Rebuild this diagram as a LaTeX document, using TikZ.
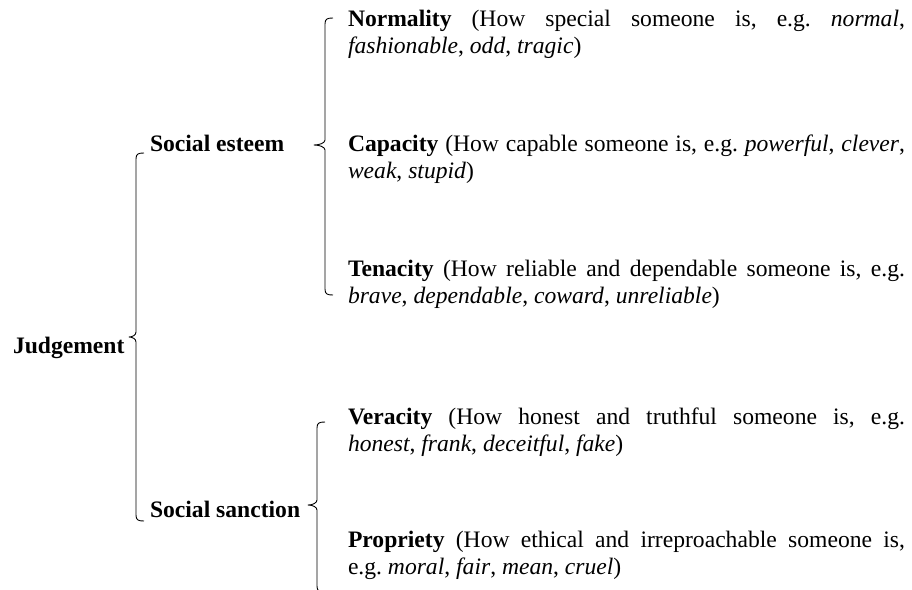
\documentclass[tikz,border=0pt]{standalone}
\usepackage{fontspec}
\setmainfont{Liberation Serif}

\tikzset{
  x=1pt, y=-1pt,
  every node/.style={inner sep=0pt, outer sep=0pt},
  label/.style={anchor=base west, font=\fontsize{23.6}{28}\selectfont\bfseries},
  entry/.style={anchor=base west, text width=557pt, align=justify,
                font=\fontsize{23.6}{27.5}\selectfont\frenchspacing},
  brace/.style={line width=0.9pt, line join=round},
}

% left curly brace: #1 = x, #2 = top, #3 = tip, #4 = bottom, #5 = tip depth
\newcommand{\leftbrace}[5]{%
  \draw[brace] (#1+8,#2) .. controls (#1+2,#2) and (#1,#2+1) .. (#1,#2+6)
    -- (#1,#3-5) .. controls (#1,#3-2) and (#1-#5/2,#3) .. (#1-#5,#3)
    .. controls (#1-#5/2,#3) and (#1,#3+2) .. (#1,#3+5)
    -- (#1,#4-6) .. controls (#1,#4-1) and (#1+2,#4) .. (#1+8,#4);}

\begin{document}
\begin{tikzpicture}
\useasboundingbox (0,0) rectangle (912,589);
\clip (0,0) rectangle (912,589);

% category labels
\node[label] (judge) at (13,353) {Judgement};
\node[label] (esteem) at (150,151) {Social esteem};
\node[label] (sanction) at (150,517) {Social sanction};

% sub-categories
\node[entry] (norm) at (348,26) {\textbf{Normality} (How special someone is, e.g. \textit{normal},\linebreak \textit{fashionable}, \textit{odd}, \textit{tragic})};
\node[entry] (cap) at (348,151) {\textbf{Capacity} (How capable someone is, e.g. \textit{powerful}, \textit{clever},\linebreak \textit{weak}, \textit{stupid})};
\node[entry] (ten) at (348,276) {\textbf{Tenacity} (How reliable and dependable someone is, e.g.\linebreak \textit{brave}, \textit{dependable}, \textit{coward}, \textit{unreliable})};
\node[entry] (ver) at (348,424) {\textbf{Veracity} (How honest and truthful someone is, e.g.\linebreak \textit{honest}, \textit{frank}, \textit{deceitful}, \textit{fake})};
\node[entry] (prop) at (348,547) {\textbf{Propriety} (How ethical and irreproachable someone is,\linebreak e.g. \textit{moral}, \textit{fair}, \textit{mean}, \textit{cruel})};

% braces
\leftbrace{136}{153}{337}{521}{7}
\leftbrace{325}{18}{145}{295}{11}
\leftbrace{317}{422}{505}{592}{9}
\end{tikzpicture}
\end{document}
